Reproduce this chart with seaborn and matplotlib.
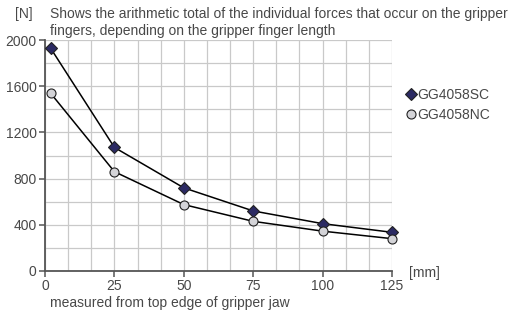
import numpy as np
import pandas as pd
import matplotlib
matplotlib.use("Agg")
import matplotlib.pyplot as plt
import seaborn as sns
from matplotlib.ticker import MultipleLocator
from matplotlib.lines import Line2D

# === Data ===
finger_length = [2, 25, 50, 75, 100, 125]
force_sc = [1930, 1070, 720, 520, 410, 335]
force_nc = [1540, 860, 575, 430, 345, 280]
series_names = ["GG4058SC", "GG4058NC"]

df = pd.concat([
    pd.DataFrame({"length": finger_length, "force": force_sc, "model": series_names[0]}),
    pd.DataFrame({"length": finger_length, "force": force_nc, "model": series_names[1]}),
])

sns.set_style("white")
plt.rcParams["font.family"] = ["Liberation Sans", "DejaVu Sans"]
txt = "#484848"
fs = 10

fig = plt.figure(figsize=(5.09, 3.14), dpi=100)
ax = fig.add_axes([45 / 509, 1 - 271 / 314, 347 / 509, 231 / 314])

sns.lineplot(data=df, x="length", y="force", hue="model", style="model",
             palette=["black", "black"], markers=["D", "o"], dashes=False,
             lw=1.1, markersize=6, legend=False, ax=ax, zorder=3)

# recolour the markers per series
for line, face, ms in zip(ax.lines, ["#2b2a63", "#d4d4d8"], [6, 6.5]):
    line.set_markerfacecolor(face)
    line.set_markeredgecolor("#222222")
    line.set_markeredgewidth(0.8)
    line.set_markersize(ms)
    line.set_clip_on(False)

ax.set_xlim(0, 125)
ax.set_ylim(0, 2000)
ax.xaxis.set_major_locator(MultipleLocator(25))
ax.xaxis.set_minor_locator(MultipleLocator(125 / 15))
ax.yaxis.set_major_locator(MultipleLocator(400))
ax.yaxis.set_minor_locator(MultipleLocator(200))
ax.grid(which="both", color="#c9c9c9", lw=0.9, zorder=0)
ax.set_axisbelow(True)

for s in ["top", "right"]:
    ax.spines[s].set_visible(False)
for s in ["left", "bottom"]:
    ax.spines[s].set_color("#555555")
    ax.spines[s].set_linewidth(1.3)

ax.tick_params(which="major", direction="out", length=4, width=1.1, color="#555555",
               labelsize=fs, labelcolor=txt, pad=2)
ax.tick_params(which="minor", length=0)
ax.tick_params(axis="y", left=True)
ax.tick_params(axis="x", bottom=True)
ax.set_xlabel("")
ax.set_ylabel("")

fig.text(15 / 509, 1 - 14 / 314, "[N]", fontsize=fs, color=txt, va="center")
fig.text(50 / 509, 1 - 14 / 314,
         "Shows the arithmetic total of the individual forces that occur on the gripper",
         fontsize=fs, color=txt, va="center")
fig.text(50 / 509, 1 - 31 / 314, "fingers, depending on the gripper finger length",
         fontsize=fs, color=txt, va="center")
fig.text(409 / 509, 1 - 273 / 314, "[mm]", fontsize=fs, color=txt, va="center")
fig.text(50 / 509, 1 - 303 / 314, "measured from top edge of gripper jaw",
         fontsize=fs, color=txt, va="center")

handles = [
    Line2D([], [], ls="none", marker="D", ms=6, mfc="#2b2a63", mec="#222222", mew=0.8),
    Line2D([], [], ls="none", marker="o", ms=6.5, mfc="#d4d4d8", mec="#222222", mew=0.8),
]
fig.legend(handles, series_names, loc="upper left",
           bbox_to_anchor=(400 / 509, 1 - 81 / 314), frameon=False,
           fontsize=fs, labelcolor=txt, handlelength=0.6, handletextpad=0.15,
           labelspacing=0.4, borderpad=0)

fig.savefig("out.png", dpi=100)
